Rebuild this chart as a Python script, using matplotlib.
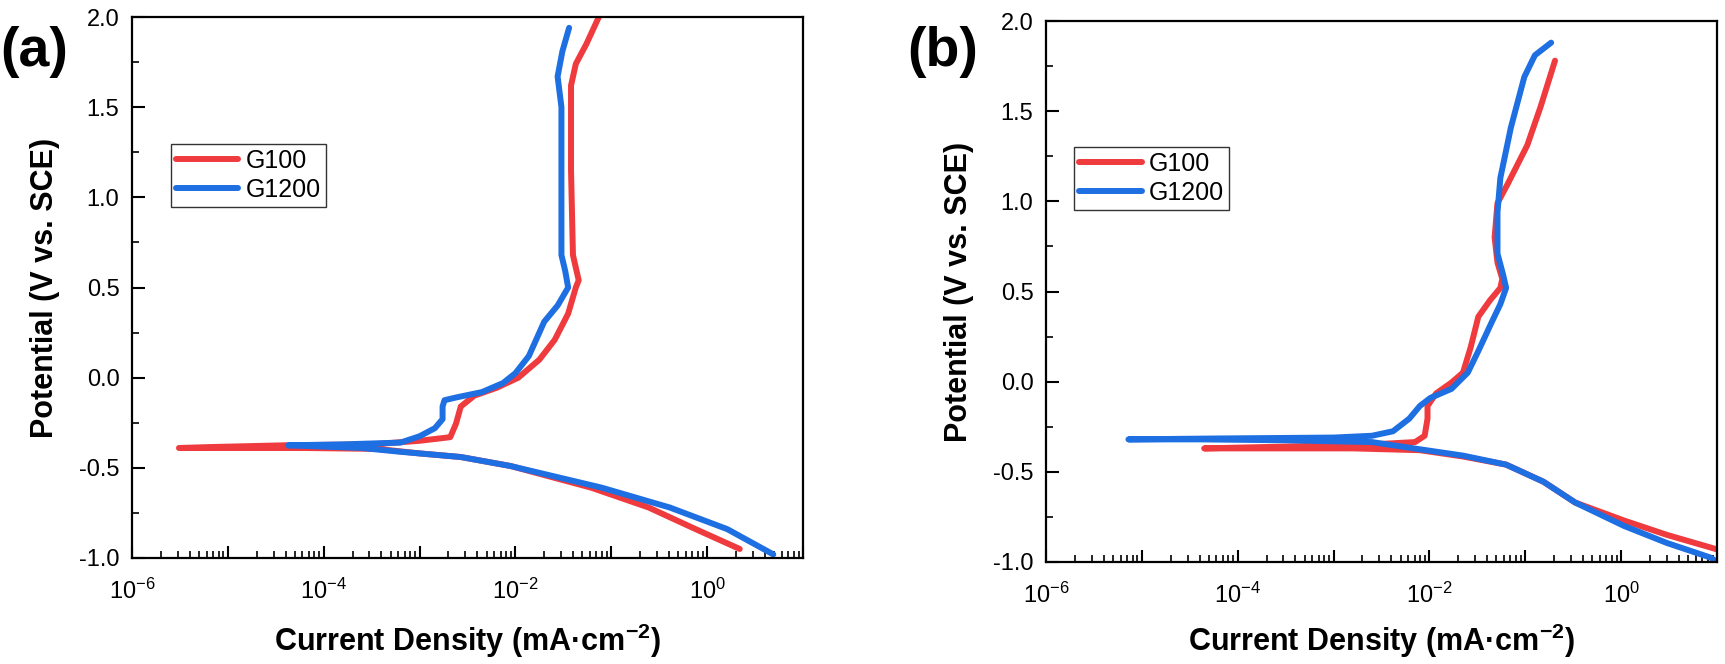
import numpy as np
import matplotlib
matplotlib.use("Agg")
import matplotlib.pyplot as plt
from matplotlib.ticker import FixedLocator, FuncFormatter, MultipleLocator

plt.rcParams['font.family'] = ['Liberation Sans', 'DejaVu Sans']
plt.rcParams['mathtext.fontset'] = 'custom'
plt.rcParams['mathtext.rm'] = 'Liberation Sans'
plt.rcParams['mathtext.bf'] = 'Liberation Sans:bold'
plt.rcParams['axes.unicode_minus'] = False

RED = '#EF3B3E'
BLUE = '#1E6FE2'

# panel (a): log10 of current density (mA/cm2) and potential (V vs SCE)
a_g100_logj = [0.34, -0.12, -0.61, -1.21, -2.05, -2.57, -3.0, -3.44, -4.2, -4.8, -5.51,
               -5.2, -4.4, -3.5, -3.0, -2.68, -2.62, -2.57, -2.43, -2.19, -1.97, -1.75,
               -1.59, -1.45, -1.37, -1.34, -1.40, -1.42, -1.42, -1.42, -1.37, -1.26, -1.13]
a_g100_v = [-0.95, -0.84, -0.72, -0.61, -0.49, -0.44, -0.42, -0.395, -0.39, -0.39, -0.39,
            -0.385, -0.375, -0.37, -0.35, -0.33, -0.255, -0.16, -0.10, -0.055, 0.0, 0.10,
            0.21, 0.355, 0.50, 0.54, 0.68, 1.15, 1.40, 1.62, 1.74, 1.85, 2.0]
a_g1200_logj = [0.69, 0.21, -0.39, -1.10, -2.05, -2.57, -3.22, -3.6, -4.37,
                -3.8, -3.2, -3.0, -2.84, -2.76, -2.76, -2.74, -2.62, -2.35, -2.13, -2.0,
                -1.86, -1.70, -1.56, -1.45, -1.48, -1.52, -1.52, -1.52, -1.56, -1.51, -1.44]
a_g1200_v = [-0.98, -0.84, -0.72, -0.61, -0.49, -0.44, -0.41, -0.39, -0.375,
             -0.37, -0.36, -0.325, -0.28, -0.23, -0.16, -0.125, -0.11, -0.08, -0.03, 0.025,
             0.12, 0.31, 0.40, 0.50, 0.59, 0.68, 1.15, 1.50, 1.67, 1.81, 1.94]

# panel (b)
b_g100_logj = [1.0, 0.48, 0.03, -0.48, -0.81, -1.20, -1.65, -2.1, -2.8, -3.6, -4.35,
               -3.5, -2.5, -2.15, -2.05, -2.02, -2.02, -1.93, -1.77, -1.65, -1.57, -1.49,
               -1.37, -1.26, -1.24, -1.29, -1.32, -1.29, -1.18, -0.98, -0.84, -0.69]
b_g100_v = [-0.93, -0.85, -0.77, -0.67, -0.555, -0.46, -0.415, -0.38, -0.37, -0.37, -0.37,
            -0.36, -0.345, -0.335, -0.30, -0.205, -0.135, -0.065, -0.005, 0.05, 0.19, 0.36,
            0.45, 0.52, 0.57, 0.66, 0.80, 0.99, 1.10, 1.31, 1.525, 1.78]
b_g1200_logj = [1.0, 0.93, 0.48, 0.03, -0.48, -0.81, -1.20, -1.65, -2.1, -2.6, -3.5, -4.4, -5.14,
                -4.2, -3.0, -2.6, -2.38, -2.21, -2.10, -1.99, -1.77, -1.60, -1.49, -1.35,
                -1.26, -1.20, -1.23, -1.29, -1.29, -1.26, -1.15, -1.01, -0.90, -0.73]
b_g1200_v = [-1.0, -0.975, -0.895, -0.80, -0.67, -0.555, -0.46, -0.41, -0.375, -0.335, -0.325, -0.32, -0.32,
             -0.315, -0.31, -0.30, -0.275, -0.205, -0.135, -0.09, -0.04, 0.05, 0.17, 0.33,
             0.43, 0.52, 0.59, 0.71, 0.94, 1.13, 1.41, 1.69, 1.81, 1.88]

fig = plt.figure(figsize=(17.25, 6.64), dpi=100)
ax_a = fig.add_axes([132 / 1725, 1 - 558 / 664, 671 / 1725, 541 / 664])
ax_b = fig.add_axes([1046 / 1725, 1 - 562 / 664, 671 / 1725, 541 / 664])


def style_axes(ax):
    ax.set_xscale('log')
    ax.set_xlim(1e-6, 10)
    ax.set_ylim(-1.0, 2.0)
    ax.xaxis.set_major_locator(FixedLocator([10.0 ** k for k in range(-6, 2)]))
    ax.xaxis.set_major_formatter(FuncFormatter(
        lambda v, p: '$\\mathregular{10^{%d}}$' % round(np.log10(v)) if round(np.log10(v)) % 2 == 0 else ''))
    ax.xaxis.set_minor_locator(FixedLocator([m * 10.0 ** k for k in range(-6, 1) for m in range(2, 10)]))
    ax.yaxis.set_major_locator(MultipleLocator(0.5))
    ax.yaxis.set_minor_locator(MultipleLocator(0.25))
    ax.yaxis.set_major_formatter(FuncFormatter(lambda v, p: '%.1f' % v))
    ax.tick_params(which='major', direction='in', length=9, width=1.5)
    ax.tick_params(which='minor', direction='in', length=5, width=1.2)
    ax.tick_params(axis='x', which='major', labelsize=17, pad=15)
    ax.tick_params(axis='y', which='major', labelsize=17, pad=9)
    ax.tick_params(top=False, right=False)
    for s in ax.spines.values():
        s.set_linewidth(1.6)
    ax.set_xlabel('Current Density (mA·cm$\\mathbf{^{-2}}$)', fontsize=22, fontweight='bold')
    ax.set_ylabel('Potential (V vs. SCE)', fontsize=22, fontweight='bold')


for ax, d in [(ax_a, (a_g100_logj, a_g100_v, a_g1200_logj, a_g1200_v)),
              (ax_b, (b_g100_logj, b_g100_v, b_g1200_logj, b_g1200_v))]:
    ax.plot(np.power(10.0, d[0]), d[1], color=RED, lw=4.3, label='G100', solid_capstyle='round')
    ax.plot(np.power(10.0, d[2]), d[3], color=BLUE, lw=4.3, label='G1200', solid_capstyle='round')
    style_axes(ax)

ax_a.xaxis.set_label_coords(0.5, -0.118)
ax_a.yaxis.set_label_coords(-0.107, 0.5)
ax_b.xaxis.set_label_coords(0.5, -0.111)
ax_b.yaxis.set_label_coords(-0.107, 0.5)

leg_a = ax_a.legend(loc='upper left', bbox_to_anchor=(0.058, 0.765), fontsize=18, frameon=True,
                    fancybox=False, edgecolor='black', handlelength=2.5, borderpad=0.2,
                    labelspacing=0.2, handletextpad=0.3, borderaxespad=0)
leg_b = ax_b.legend(loc='upper left', bbox_to_anchor=(0.042, 0.767), fontsize=18, frameon=True,
                    fancybox=False, edgecolor='black', handlelength=2.5, borderpad=0.2,
                    labelspacing=0.2, handletextpad=0.3, borderaxespad=0)
for leg in (leg_a, leg_b):
    leg.get_frame().set_linewidth(1.0)

fig.text(0.0, 0.922, '(a)', fontsize=40, fontweight='bold', va='center')
fig.text(0.526, 0.922, '(b)', fontsize=40, fontweight='bold', va='center')

fig.savefig('out.png', dpi=100)
